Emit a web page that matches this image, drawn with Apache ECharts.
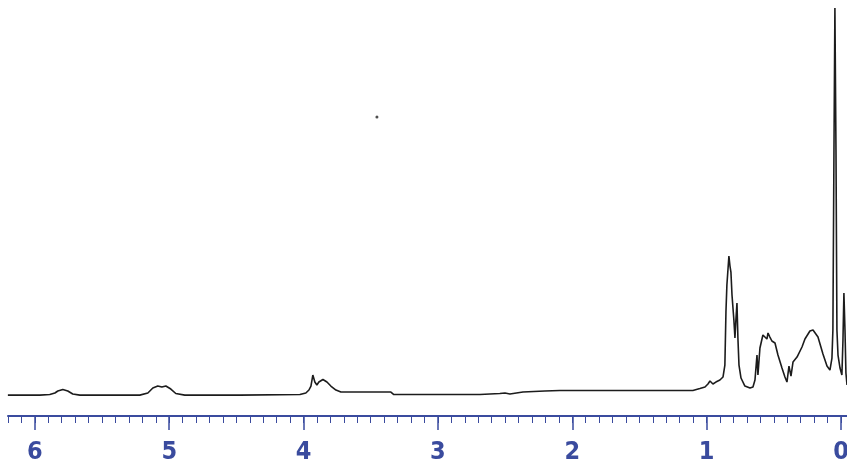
<!DOCTYPE html>
<html>
<head>
<meta charset="utf-8">
<script src="https://cdn.jsdelivr.net/npm/echarts@6/dist/echarts.min.js"></script>
<style>
  html, body { margin: 0; padding: 0; background: #fff; }
  #chart { width: 847px; height: 462px; }
</style>
</head>
<body>
<div id="chart"></div>
<script>
// chemical shift (ppm) and relative intensity
var shiftPpm = [
  6.201, 5.963, 5.889, 5.851, 5.829, 5.792, 5.755, 5.718, 5.665,
  5.219, 5.159, 5.122, 5.085, 5.055, 5.025, 4.988, 4.951, 4.884,
  4.474, 4.027, 3.983, 3.960, 3.945, 3.931, 3.916, 3.901, 3.886, 3.856, 3.826, 3.797, 3.759, 3.722,
  3.350, 3.328, 3.134, 2.687, 2.539, 2.501, 2.464, 2.367, 2.204, 2.092,
  1.102, 1.050, 1.012, 0.990, 0.975, 0.953, 0.931, 0.901, 0.878, 0.864, 0.856, 0.849,
  0.834, 0.826, 0.819, 0.811, 0.797, 0.789, 0.782, 0.774, 0.767, 0.759, 0.744, 0.715,
  0.677, 0.655, 0.640, 0.625, 0.618, 0.603, 0.581, 0.566, 0.551, 0.543, 0.529, 0.514,
  0.491, 0.469, 0.439, 0.417, 0.402, 0.387, 0.372, 0.357, 0.327, 0.290, 0.268, 0.231,
  0.208, 0.171, 0.134, 0.104, 0.082, 0.067, 0.060, 0.052, 0.045, 0.037, 0.030, 0.022,
  0.007, -0.007, -0.015, -0.022, -0.030, -0.037, -0.045
];
var intensity = [
  -0.1, -0.1, 0.05, 0.44, 0.96, 1.34, 0.96, 0.18, -0.1,
  -0.1, 0.44, 1.73, 2.25, 1.99, 2.25, 1.47, 0.31, -0.1,
  -0.1, 0.05, 0.44, 1.22, 2.25, 5.09, 3.28, 2.51, 3.28, 3.93, 3.28, 2.25, 1.22, 0.70,
  0.70, 0.05, 0.05, 0.05, 0.31, 0.44, 0.18, 0.70, 0.96, 1.09,
  1.09, 1.60, 1.99, 2.77, 3.54, 2.77, 3.28, 3.80, 4.58, 7.68, 21.39, 28.37,
  35.87, 33.28, 31.73, 25.78, 19.32, 14.66, 19.32, 23.71, 14.66, 7.68, 4.32, 2.25,
  1.73, 1.99, 3.80, 10.27, 5.09, 12.08, 15.44, 14.92, 14.40, 15.96, 14.92, 13.89,
  13.37, 10.27, 6.91, 4.58, 3.28, 7.42, 4.84, 8.46, 9.75, 12.34, 14.40, 16.47,
  16.73, 14.92, 10.52, 7.42, 6.39, 9.49, 16.73, 63.28, 100, 63.28, 16.73, 10.27,
  6.91, 5.09, 14.15, 26.30, 16.73, 5.61, 2.51
];
// stray dot in the scan
var speckPpm = [3.454];
var speckIntensity = [71.8];

var majorTicks = [0, 1, 2, 3, 4, 5, 6];
var minorTicks = [];
for (var i = 0; i <= 62; i++) minorTicks.push(i / 10);

var blue = '#3a4b9e';

var spectrum = shiftPpm.map(function (p, i) { return [p, intensity[i]]; });
var speck = speckPpm.map(function (p, i) { return [p, speckIntensity[i]]; });

var chart = echarts.init(document.getElementById('chart'));
chart.setOption({
  animation: false,
  backgroundColor: '#ffffff',
  grid: { left: 8, right: 0, top: 8, bottom: 46, containLabel: false, outerBoundsMode: 'none' },
  xAxis: [
    {
      type: 'value',
      min: -0.045,
      max: 6.2,
      inverse: true,
      position: 'bottom',
      axisLine: { show: true, onZero: false, lineStyle: { color: blue, width: 2 } },
      axisTick: { show: true, customValues: majorTicks, length: 14, lineStyle: { color: blue, width: 1.5 } },
      axisLabel: {
        show: true,
        customValues: majorTicks,
        margin: 24,
        color: blue,
        fontSize: 25,
        fontWeight: 'bold',
        fontFamily: 'Liberation Sans Narrow, DejaVu Sans Condensed, Liberation Sans, sans-serif'
      },
      splitLine: { show: false }
    },
    {
      type: 'value',
      min: -0.045,
      max: 6.2,
      inverse: true,
      position: 'bottom',
      axisLine: { show: false, onZero: false },
      axisTick: { show: true, customValues: minorTicks, length: 7, lineStyle: { color: blue, width: 1 } },
      axisLabel: { show: false },
      splitLine: { show: false }
    }
  ],
  yAxis: {
    type: 'value',
    min: -5.5,
    max: 100,
    show: false,
    splitLine: { show: false }
  },
  series: [
    {
      type: 'line',
      xAxisIndex: 0,
      data: spectrum,
      showSymbol: false,
      lineStyle: { color: '#1c1c1c', width: 1.6 }
    },
    {
      type: 'scatter',
      xAxisIndex: 0,
      data: speck,
      symbolSize: 3,
      itemStyle: { color: '#222' }
    }
  ]
});
</script>
</body>
</html>
